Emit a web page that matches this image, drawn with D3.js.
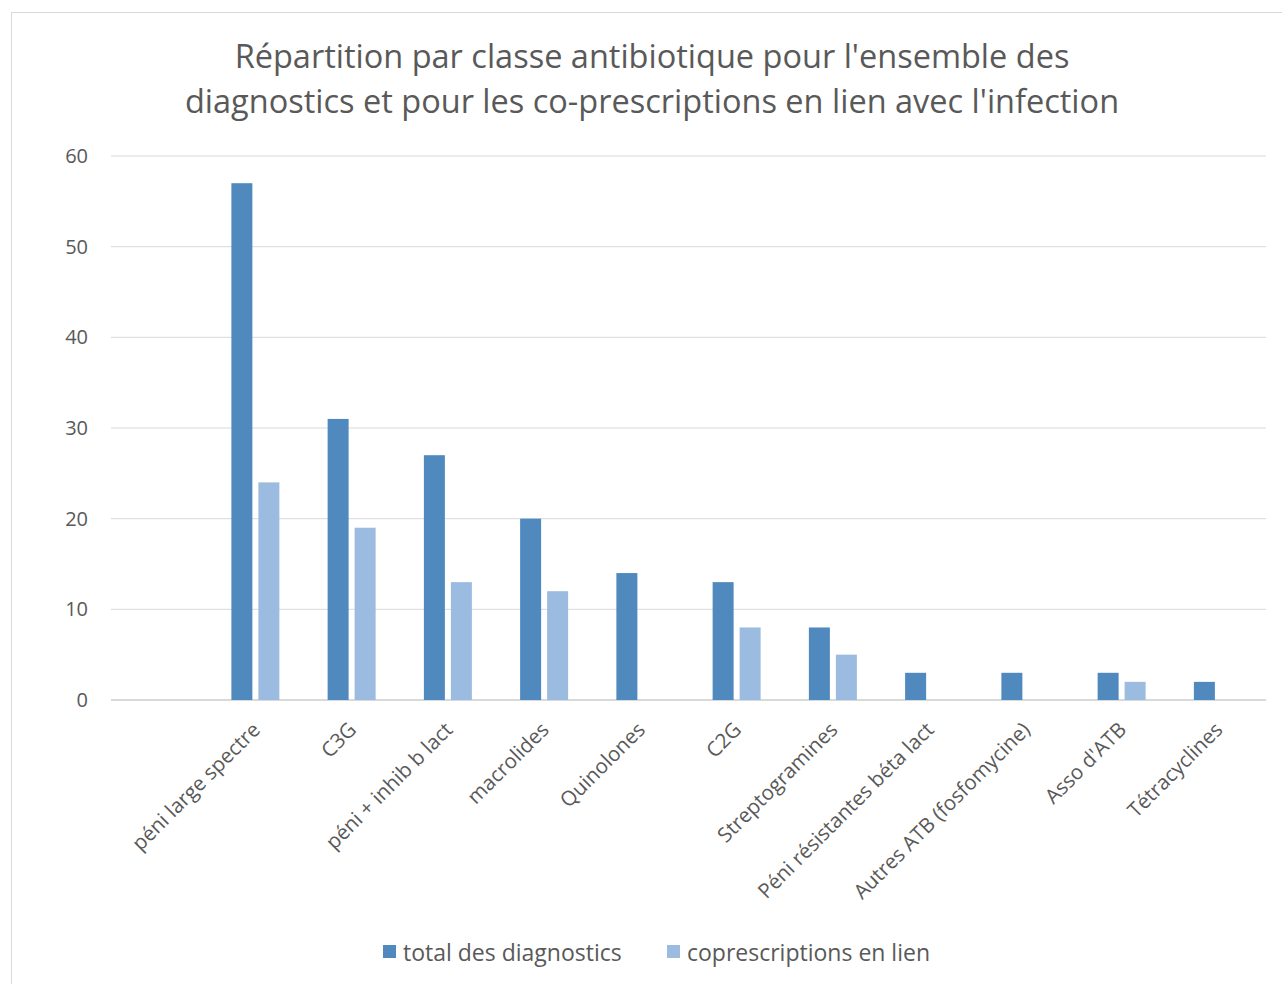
<!DOCTYPE html>
<html>
<head>
<meta charset="utf-8">
<script src="https://cdn.jsdelivr.net/npm/d3@7"></script>
<style>
  body { margin: 0; background: #fff; }
  svg { font-family: "Open Sans", sans-serif; }
</style>
</head>
<body>
<script>
// categories (first slot is empty, as in the source sheet)
var categories = ["", "péni large spectre", "C3G", "péni + inhib b lact", "macrolides", "Quinolones",
  "C2G", "Streptogramines", "Péni résistantes béta lact", "Autres ATB (fosfomycine)", "Asso d'ATB", "Tétracyclines"];
var totalDiag = [null, 57, 31, 27, 20, 14, 13, 8, 3, 3, 3, 2];
var coprescr = [null, 24, 19, 13, 12, null, 8, 5, null, null, 2, null];
var seriesNames = ["total des diagnostics", "coprescriptions en lien"];
var colors = ["#4f89bd", "#9bbbe0"];
var yTicks = [0, 10, 20, 30, 40, 50, 60];

var width = 1282, height = 984;
var margin = {top: 156, right: 16, bottom: 284, left: 111};

var svg = d3.select("body").append("svg")
  .attr("width", width)
  .attr("height", height);

// chart border
svg.append("rect")
  .attr("x", 11.5).attr("y", 12.5)
  .attr("width", 1290).attr("height", 990)
  .attr("fill", "none")
  .attr("stroke", "#d9d9d9");

var x = d3.scaleBand()
  .domain(categories.map(function(d, i) { return i; }))
  .range([margin.left, width - margin.right]);

var y = d3.scaleLinear()
  .domain([0, 60])
  .range([height - margin.bottom, margin.top]);

// title
svg.append("text")
  .attr("x", 652).attr("y", 68)
  .attr("text-anchor", "middle")
  .attr("font-size", "32.5px")
  .attr("fill", "#595959")
  .selectAll("tspan")
  .data(["Répartition par classe antibiotique pour l'ensemble des",
         "diagnostics et pour les co-prescriptions en lien avec l'infection"])
  .enter().append("tspan")
  .attr("x", 652)
  .attr("dy", function(d, i) { return i ? 45 : 0; })
  .text(function(d) { return d; });

// gridlines
svg.append("g")
  .selectAll("line")
  .data(yTicks)
  .enter().append("line")
  .attr("x1", margin.left).attr("x2", width - margin.right)
  .attr("y1", function(d) { return y(d); })
  .attr("y2", function(d) { return y(d); })
  .attr("stroke", "#d9d9d9")
  .attr("stroke-width", function(d) { return d === 0 ? 2 : 1; });

// y axis labels
var yAxis = d3.axisLeft(y).tickValues(yTicks).tickSize(0).tickPadding(0);
var yg = svg.append("g")
  .attr("transform", "translate(88,0)")
  .call(yAxis);
yg.select(".domain").remove();
yg.selectAll("text")
  .attr("font-family", "Open Sans, sans-serif")
  .attr("font-size", "20px")
  .attr("fill", "#595959");

// bars
var barW = 21, gap = 6;
var series = [totalDiag, coprescr];
series.forEach(function(vals, s) {
  svg.append("g")
    .selectAll("rect")
    .data(vals.map(function(v, i) { return {i: i, v: v}; })
      .filter(function(d) { return d.v != null; }))
    .enter().append("rect")
    .attr("x", function(d) {
      var c = x(d.i) + x.bandwidth() / 2;
      return s === 0 ? c - gap / 2 - barW : c + gap / 2;
    })
    .attr("y", function(d) { return y(d.v); })
    .attr("width", barW)
    .attr("height", function(d) { return y(0) - y(d.v); })
    .attr("fill", colors[s]);
});

// x labels, rotated
svg.append("g")
  .selectAll("text")
  .data(categories.map(function(c, i) { return {i: i, c: c}; }))
  .enter().append("text")
  .attr("transform", function(d) {
    var c = x(d.i) + x.bandwidth() / 2;
    return "translate(" + (c + 6) + "," + 731 + ") rotate(-45)";
  })
  .attr("text-anchor", "end")
  .attr("font-size", "20.5px")
  .attr("fill", "#595959")
  .text(function(d) { return d.c; });

// legend
var legend = svg.append("g");
var legX = [383, 667];
seriesNames.forEach(function(name, s) {
  legend.append("rect")
    .attr("x", legX[s]).attr("y", 945)
    .attr("width", 13).attr("height", 13)
    .attr("fill", colors[s]);
  legend.append("text")
    .attr("x", legX[s] + 20).attr("y", 961)
    .attr("font-size", "23px")
    .attr("fill", "#595959")
    .text(name);
});
</script>
</body>
</html>
